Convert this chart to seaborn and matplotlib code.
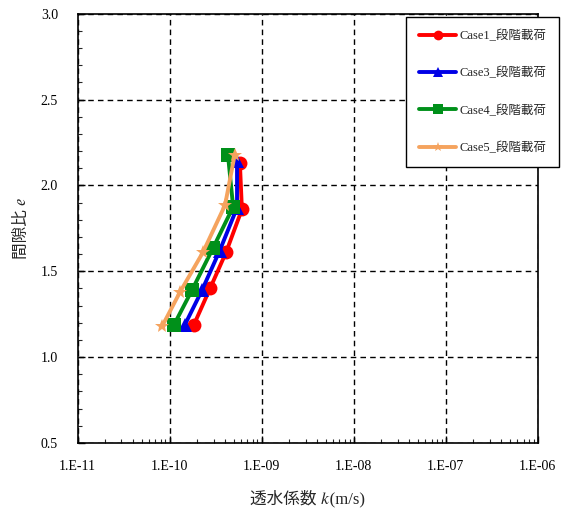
import numpy as np
import pandas as pd
import seaborn as sns
import matplotlib
matplotlib.use("Agg")
import matplotlib.pyplot as plt
from matplotlib.ticker import LogLocator, FixedLocator, MultipleLocator, NullFormatter, FuncFormatter

# Permeability k (m/s) and void ratio e for each stepwise-loading case
case_names = ["Case1_段階載荷", "Case3_段階載荷", "Case4_段階載荷", "Case5_段階載荷"]
k_case1 = [5.8e-10, 6.1e-10, 4.1e-10, 2.75e-10, 1.84e-10]
e_case1 = [2.13, 1.86, 1.61, 1.40, 1.19]
k_case3 = [5.4e-10, 5.4e-10, 3.5e-10, 2.25e-10, 1.47e-10]
e_case3 = [2.14, 1.87, 1.62, 1.39, 1.19]
k_case4 = [4.3e-10, 4.9e-10, 2.96e-10, 1.75e-10, 1.12e-10]
e_case4 = [2.18, 1.875, 1.635, 1.39, 1.19]
k_case5 = [5.1e-10, 4.0e-10, 2.3e-10, 1.3e-10, 8.3e-11]
e_case5 = [2.18, 1.885, 1.61, 1.38, 1.18]

x_ticks = [1e-11, 1e-10, 1e-9, 1e-8, 1e-7, 1e-6]
x_tick_labels = ["1.E-11", "1.E-10", "1.E-09", "1.E-08", "1.E-07", "1.E-06"]
y_ticks = [0.5, 1.0, 1.5, 2.0, 2.5, 3.0]

frames = []
for name, ks, es in zip(case_names, [k_case1, k_case3, k_case4, k_case5],
                        [e_case1, e_case3, e_case4, e_case5]):
    frames.append(pd.DataFrame({"k": ks, "e": es, "case": name}))
df = pd.concat(frames, ignore_index=True)

sns.set_style("white")
plt.rcParams["font.family"] = ["Liberation Serif", "Noto Sans CJK JP", "STIXGeneral"]

palette = {case_names[0]: "#ff0000", case_names[1]: "#0000e6",
           case_names[2]: "#00901a", case_names[3]: "#f5a35e"}
markers = {case_names[0]: "o", case_names[1]: "^",
           case_names[2]: "s", case_names[3]: "*"}

fig = plt.figure(figsize=(5.62, 5.08), dpi=100)
ax = fig.add_axes([0.138, 0.128, 0.819, 0.845])

sns.lineplot(data=df, x="k", y="e", hue="case", style="case",
             palette=palette, markers=markers, dashes=False, sort=False,
             linewidth=2.8, markersize=10, markeredgewidth=0,
             estimator=None, ax=ax, legend=True)

ax.set_xscale("log")
ax.set_xlim(1e-11, 1e-6)
ax.set_ylim(0.5, 3.0)
ax.xaxis.set_major_locator(FixedLocator(x_ticks))
ax.xaxis.set_major_formatter(FuncFormatter(
    lambda v, p: x_tick_labels[int(np.argmin([abs(np.log10(t) - np.log10(v)) for t in x_ticks]))]))
ax.xaxis.set_minor_locator(LogLocator(base=10, subs=np.arange(2, 10), numticks=20))
ax.xaxis.set_minor_formatter(NullFormatter())
ax.yaxis.set_major_locator(FixedLocator(y_ticks))
ax.yaxis.set_major_formatter(FuncFormatter(lambda v, p: f"{v:.1f}"))
ax.yaxis.set_minor_locator(MultipleLocator(0.1))

ax.grid(True, which="major", color="black", linestyle=(0, (4, 3)), linewidth=1.0)
for s in ax.spines.values():
    s.set_color("black")
    s.set_linewidth(1.2)
ax.tick_params(which="major", direction="in", length=5, width=1, labelsize=10,
               colors="black")
ax.tick_params(axis="x", which="major", pad=12)
ax.tick_params(axis="y", which="major", pad=14)
ax.tick_params(which="minor", direction="in", length=3, width=0.8)
ax.tick_params(axis="x", which="both", top=False, bottom=True)
ax.tick_params(axis="y", which="both", left=True, right=False)

ax.set_xlabel("透水係数 \U0001D458(m/s)", fontsize=12, labelpad=12)
ax.set_ylabel("間隙比 \U0001D452", fontsize=12, labelpad=8)

handles, labels = ax.get_legend_handles_labels()
leg = ax.legend(handles, labels, loc="upper left", bbox_to_anchor=(0.712, 0.978),
                bbox_transform=fig.transFigure, frameon=True, fancybox=False,
                edgecolor="black", framealpha=1, fontsize=9, labelspacing=2.0,
                handlelength=3.0, handletextpad=0.25, borderpad=1.0)
leg.get_frame().set_linewidth(1.0)
for h in leg.legend_handles:
    h.set_markersize(7)

fig.savefig("out.png", dpi=100, facecolor="white")
